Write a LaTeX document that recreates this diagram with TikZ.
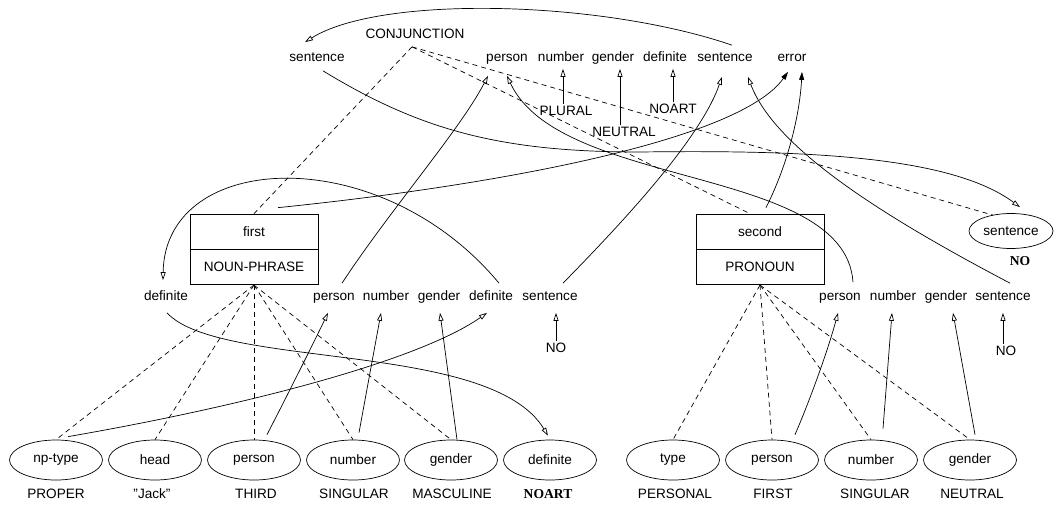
\documentclass[tikz,border=0pt]{standalone}
\usepackage{fontspec}
\setmainfont{Liberation Sans}
\newfontfamily\valfont{Liberation Serif}
\usetikzlibrary{arrows.meta,shapes.geometric,positioning}

\begin{document}
\begin{tikzpicture}[
    x=1pt, y=-1pt,
    line width=0.7pt,
    font=\fontsize{13.6}{16}\selectfont,
    word/.style={inner sep=1pt, text height=10pt, text depth=3pt},
    boldval/.style={word, font=\valfont\bfseries\fontsize{13.6}{16}\selectfont},
    slot/.style={draw, minimum width=128pt, minimum height=35pt, inner sep=0pt},
    attr/.style={draw, ellipse, minimum width=93pt, minimum height=40pt, inner sep=0pt},
    share/.style={dash pattern=on 5pt off 4pt},
    feat/.style={-{Triangle[open, length=8pt, width=5pt]}},
    err/.style={-{Triangle[length=8pt, width=5pt]}}
]
    \useasboundingbox (0,0) rectangle (1054,505);

    % --- TOP: THE CONJUNCTION ---
    \node[word] (conj) at (415,35) {CONJUNCTION};
    \coordinate (cj) at ([shift={(-3,4)}]conj.south); % foot of the dashed lines

    \node[word] (cSentL)    at (317,58) {sentence};
    \node[word] (cPerson)   at (507,58) {person};
    \node[word] (cNumber)   at (561,58) {number};
    \node[word] (cGender)   at (613,58) {gender};
    \node[word] (cDefinite) at (665,58) {definite};
    \node[word] (cSentence) at (725,58) {sentence};
    \node[word] (cError)    at (792,58) {error};

    \node[word] (vPlural)  at (566,112) {PLURAL};
    \node[word] (vNeutral) at (624,133) {NEUTRAL};
    \node[word] (vNoart)   at (673,110) {NOART};

    \node[attr, minimum width=84pt, minimum height=35pt] (cSentEll) at (1011,231) {sentence};
    \node[boldval] (vNoSent) at (1020,262) {NO};

    % --- LEFT CONJUNCT ---
    \node[slot] (first) at (254,231.5) {first};
    \node[slot, below=0pt of first] (firstCat) {NOUN-PHRASE};

    \node[word] (fDefL)     at (166,297) {definite};
    \node[word] (fPerson)   at (334,297) {person};
    \node[word] (fNumber)   at (386,297) {number};
    \node[word] (fGender)   at (439,297) {gender};
    \node[word] (fDefinite) at (491,297) {definite};
    \node[word] (fSentence) at (550,297) {sentence};
    \node[word] (fNo)       at (556,349) {NO};

    % --- RIGHT CONJUNCT ---
    \node[slot] (second) at (760,231.5) {second};
    \node[slot, below=0pt of second] (secondCat) {PRONOUN};

    \node[word] (sPerson)   at (840,297) {person};
    \node[word] (sNumber)   at (893,297) {number};
    \node[word] (sGender)   at (946,297) {gender};
    \node[word] (sSentence) at (1003,297) {sentence};
    \node[word] (sNo)       at (1006,352) {NO};

    % --- BOTTOM: ATTRIBUTES AND VALUES ---
    \node[attr] (eNptype)   at (56,460)  {np-type};
    \node[attr] (eHead)     at (155,460) {head};
    \node[attr] (ePerson)   at (254,460) {person};
    \node[attr] (eNumber)   at (353,460) {number};
    \node[attr] (eGender)   at (451,460) {gender};
    \node[attr] (eDefinite) at (550,460) {definite};
    \node[attr] (eType)     at (673,460) {type};
    \node[attr] (ePerson2)  at (772,460) {person};
    \node[attr] (eNumber2)  at (871,460) {number};
    \node[attr] (eGender2)  at (970,460) {gender};

    \node[word] (vProper)    at (56,495)  {PROPER};
    \node[word] (vJack)      at (152,495) {"Jack"};
    \node[word] (vThird)     at (256,495) {THIRD};
    \node[word] (vSingular)  at (354,495) {SINGULAR};
    \node[word] (vMasc)      at (452,495) {MASCULINE};
    \node[boldval] (vNoartD) at (548,495) {NOART};
    \node[word] (vPersonal)  at (675,495) {PERSONAL};
    \node[word] (vFirst)     at (773,495) {FIRST};
    \node[word] (vSingular2) at (875,495) {SINGULAR};
    \node[word] (vNeutral2)  at (972,495) {NEUTRAL};

    % Dashed edges
    \draw[share] (cj) -- (first.north);
    \draw[share] (cj) -- ([shift={(-10,0)}]second.north);
    \draw[share] (cj) -- ([shift={(-18,2)}]cSentEll.north);

    \draw[share] (firstCat.south) -- (eNptype.north);
    \draw[share] (firstCat.south) -- (eHead.north);
    \draw[share] (firstCat.south) -- (ePerson.north);
    \draw[share] (firstCat.south) -- (eNumber.north);
    \draw[share] (firstCat.south) -- (eGender.north);

    \draw[share] (secondCat.south) -- (eType.north);
    \draw[share] (secondCat.south) -- (ePerson2.north);
    \draw[share] (secondCat.south) -- (eNumber2.north);
    \draw[share] (secondCat.south) -- (eGender2.north);

    % Values of the conjunction
    \draw[feat] ([shift={(-3,0)}]vPlural.north) -- ([shift={(2,3)}]cNumber.south);
    \draw[feat] ([shift={(-4,0)}]vNeutral.north) -- ([shift={(7,3)}]cGender.south);
    \draw[feat] (vNoart.north) -- ([shift={(8,3)}]cDefinite.south);

    % Features passed up to the conjunction
    \draw[feat] ([shift={(8,-6)}]fPerson.north) .. controls (390,210) and (460,130) .. ([shift={(-19,10)}]cPerson.south);
    \draw[feat] ([shift={(13,-7)}]sPerson.north) .. controls (845,165) and (560,190) .. ([shift={(0,10)}]cPerson.south);
    \draw[feat] ([shift={(13,-6)}]fSentence.north) .. controls (620,225) and (700,140) .. ([shift={(-3,11)}]cSentence.south);
    \draw[feat] ([shift={(7,-6)}]sSentence.north) .. controls (890,220) and (775,150) .. ([shift={(23,11)}]cSentence.south);
    \draw[err] ([shift={(24,-6)}]first.north) .. controls (500,185) and (740,140) .. ([shift={(-4,6)}]cError.south);
    \draw[err] ([shift={(6,-6)}]second.north) .. controls (790,160) and (800,110) .. ([shift={(10,6)}]cError.south);
    \draw[feat] ([shift={(7,-5)}]cSentence.north) .. controls (600,0) and (380,-5) .. ([shift={(-12,-8)}]cSentL.north);
    \draw[feat] ([shift={(6,5)}]cSentL.south) .. controls (420,130) and (500,152) .. (640,152)
        .. controls (800,150) and (950,155) .. ([shift={(9,-6)}]cSentEll.north);

    % Definiteness of the first conjunct
    \draw[feat] ([shift={(8,-6)}]fDefinite.north) .. controls (380,140) and (165,150) .. ([shift={(-3,-9)}]fDefL.north);
    \draw[feat] ([shift={(1,8)}]fDefL.south) .. controls (220,370) and (490,340) .. ([shift={(-2,-4)}]eDefinite.north);
    \draw[feat] ([shift={(12,-3)}]eNptype.north) .. controls (250,405) and (420,360) .. ([shift={(-4,8)}]fDefinite.south);

    % Left conjunct features
    \draw[feat] ([shift={(13,-5)}]ePerson.north) .. controls (290,390) and (315,340) .. ([shift={(-6,8)}]fPerson.south);
    \draw[feat] ([shift={(6,-7)}]eNumber.north) -- ([shift={(-5,8)}]fNumber.south);
    \draw[feat] ([shift={(6,0)}]eGender.north) -- ([shift={(1,8)}]fGender.south);
    \draw[feat] (fNo.north) -- ([shift={(6,8)}]fSentence.south);

    % Right conjunct features
    \draw[feat] ([shift={(23,-5)}]ePerson2.north) .. controls (810,400) and (828,350) .. ([shift={(-2,8)}]sPerson.south);
    \draw[feat] ([shift={(12,-11)}]eNumber2.north) -- ([shift={(-1,8)}]sNumber.south);
    \draw[feat] ([shift={(5,-5)}]eGender2.north) -- ([shift={(7,8)}]sGender.south);
    \draw[feat] ([shift={(-3,0)}]sNo.north) -- ([shift={(0,8)}]sSentence.south);

\end{tikzpicture}
\end{document}
